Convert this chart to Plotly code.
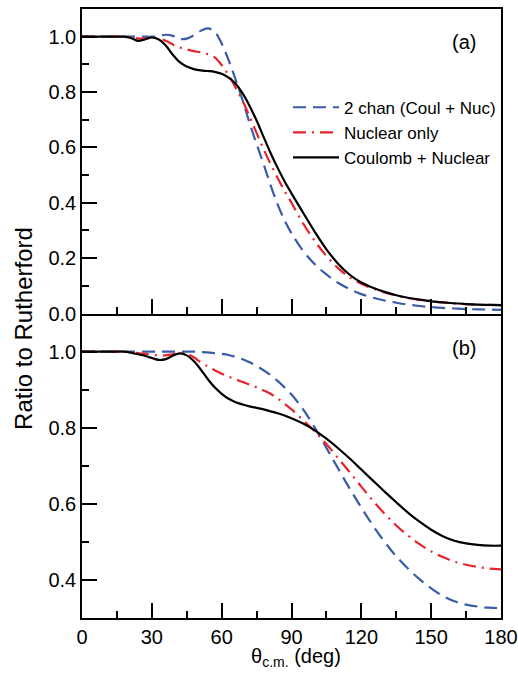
import plotly.graph_objects as go

# ---------------- data ----------------
theta = [0, 3, 6, 9, 12, 15, 18, 21, 24, 27, 30, 33, 36, 39, 42, 45,
         48, 51, 54, 57, 60, 63, 66, 69, 72, 75, 78, 81, 84, 87, 90,
         95, 100, 105, 110, 115, 120, 125, 130, 135, 140, 145, 150, 155, 160, 165, 170, 175, 180]

# panel (a)
a_two_chan = [1.0, 1.0, 1.0, 1.0, 1.0, 1.0, 1.0, 1.0, 1.0, 1.0, 1.0, 1.003, 1.007, 1.003, 0.992, 0.993,
              1.005, 1.021, 1.03, 1.018, 0.975, 0.915, 0.845, 0.77, 0.688, 0.612, 0.54, 0.464, 0.395, 0.337, 0.29,
              0.226, 0.178, 0.141, 0.111, 0.088, 0.07, 0.057, 0.047, 0.039, 0.032, 0.027, 0.023, 0.02, 0.018, 0.016,
              0.015, 0.014, 0.013]
a_nuclear = [1.0, 1.0, 1.0, 1.0, 1.0, 1.0, 1.0, 0.998, 0.994, 0.993, 0.996, 0.994, 0.985, 0.972, 0.961, 0.954,
             0.948, 0.943, 0.937, 0.925, 0.897, 0.86, 0.816, 0.768, 0.712, 0.652, 0.594, 0.54, 0.49, 0.443, 0.4,
             0.325, 0.262, 0.208, 0.164, 0.13, 0.107, 0.09, 0.076, 0.065, 0.056, 0.049, 0.044, 0.04, 0.036, 0.034,
             0.032, 0.031, 0.03]
a_coul_nuc = [1.0, 1.0, 1.0, 1.0, 1.0, 1.0, 1.0, 0.995, 0.985, 0.99, 0.997, 0.99, 0.968, 0.935, 0.908, 0.892,
              0.883, 0.878, 0.876, 0.873, 0.866, 0.852, 0.83, 0.795, 0.75, 0.697, 0.638, 0.58, 0.527, 0.478, 0.434,
              0.364, 0.295, 0.232, 0.18, 0.14, 0.112, 0.093, 0.078, 0.066, 0.057, 0.05, 0.044, 0.04, 0.037, 0.034,
              0.032, 0.031, 0.03]

# panel (b)
b_two_chan = [1.0, 1.0, 1.0, 1.0, 1.0, 1.0, 1.0, 1.0, 1.0, 1.0, 1.0, 1.0, 1.0, 1.0, 1.0, 1.0,
              1.0, 0.999, 0.998, 0.996, 0.994, 0.991, 0.986, 0.98, 0.972, 0.962, 0.951, 0.938, 0.923, 0.906, 0.887,
              0.848, 0.8, 0.747, 0.693, 0.64, 0.59, 0.543, 0.5, 0.462, 0.43, 0.402, 0.378, 0.358, 0.344, 0.335,
              0.33, 0.327, 0.326]
b_nuclear = [1.0, 1.0, 1.0, 1.0, 1.0, 1.0, 1.0, 0.998, 0.996, 0.994, 0.992, 0.99, 0.99, 0.993, 0.996, 0.994,
             0.985, 0.972, 0.961, 0.951, 0.942, 0.934, 0.927, 0.92, 0.913, 0.906, 0.898, 0.889, 0.877, 0.863, 0.848,
             0.82, 0.79, 0.757, 0.72, 0.683, 0.645, 0.608, 0.574, 0.543, 0.517, 0.494, 0.475, 0.46, 0.448, 0.44,
             0.434, 0.43, 0.428]
b_coul_nuc = [1.0, 1.0, 1.0, 1.0, 1.0, 1.0, 1.0, 0.997, 0.993, 0.989, 0.983, 0.978, 0.98, 0.989, 0.995, 0.99,
              0.975, 0.953, 0.928, 0.906, 0.889, 0.876, 0.867, 0.861, 0.856, 0.852, 0.848, 0.843, 0.838, 0.832, 0.825,
              0.811, 0.793, 0.771, 0.746, 0.719, 0.69, 0.661, 0.632, 0.604, 0.577, 0.553, 0.532, 0.515, 0.503, 0.496,
              0.492, 0.49, 0.49]

names = ["2 chan (Coul + Nuc)", "Nuclear only", "Coulomb + Nuclear"]
ya_ticks = [0.0, 0.2, 0.4, 0.6, 0.8, 1.0]
yb_ticks = [0.4, 0.6, 0.8, 1.0]

for s in (a_two_chan, a_nuclear, a_coul_nuc, b_two_chan, b_nuclear, b_coul_nuc):
    assert len(s) == len(theta), len(s)

# ---------------- styles ----------------
FONT = "Liberation Sans, Arial, Helvetica, sans-serif"
BLUE = "#3a5ba8"
RED = "#e8232a"
BLACK = "#000000"
TICK = "#000000"
styles = [
    dict(color=BLUE, width=2.2, dash="13px,7px"),
    dict(color=RED, width=2.2, dash="13px,6px,2px,6px"),
    dict(color=BLACK, width=2.2, dash="solid"),
]

fig = go.Figure()
for name, ys, st in zip(names, [a_two_chan, a_nuclear, a_coul_nuc], styles):
    fig.add_trace(go.Scatter(x=theta, y=ys, mode="lines", name=name,
                             line=dict(shape="spline", smoothing=1.0, **st),
                             xaxis="x2", yaxis="y2", showlegend=True))
for name, ys, st in zip(names, [b_two_chan, b_nuclear, b_coul_nuc], styles):
    fig.add_trace(go.Scatter(x=theta, y=ys, mode="lines", name=name,
                             line=dict(shape="spline", smoothing=1.0, **st),
                             xaxis="x", yaxis="y", showlegend=False))

minor_x = dict(dtick=15, tick0=0, ticklen=7, ticks="inside", tickcolor=TICK, tickwidth=2)
minor_y = dict(dtick=0.1, tick0=0, ticklen=7, ticks="inside", tickcolor=TICK, tickwidth=2)


def ax(**kw):
    d = dict(showline=True, linecolor="black", linewidth=1.5, mirror=True,
             ticks="inside", ticklen=15, tickwidth=2, tickcolor=TICK,
             showgrid=False, zeroline=False, automargin=False,
             tickfont=dict(family=FONT, size=20, color="black"))
    d.update(kw)
    return d


fig.update_layout(
    width=518, height=675,
    margin=dict(l=82, r=17, t=9, b=57),
    paper_bgcolor="white", plot_bgcolor="white",
    font=dict(family=FONT, color="black"),
    xaxis=ax(range=[0, 180], tick0=0, dtick=30, anchor="y", mirror=False, minor=minor_x),
    xaxis2=ax(range=[0, 180], tick0=0, dtick=30, anchor="y2",
              showticklabels=False, minor=minor_x),
    yaxis=ax(domain=[0, 0.5], range=[0.3, 1.1], tickvals=yb_ticks, tickformat=".1f", minor=minor_y),
    yaxis2=ax(domain=[0.5, 1], range=[0, 1.1], tickvals=ya_ticks, tickformat=".1f", minor=minor_y),
    legend=dict(x=0.4917, y=0.8675, xanchor="left", yanchor="top",
                bgcolor="rgba(0,0,0,0)", borderwidth=0,
                font=dict(family=FONT, size=17, color="black"),
                itemwidth=46, tracegroupgap=0),
    annotations=[
        dict(text="Ratio to Rutherford", x=-0.138, y=0.475, xref="paper", yref="paper",
             textangle=-90, showarrow=False, font=dict(family=FONT, size=24),
             xanchor="center", yanchor="middle"),
        dict(text="θ<sub>c.m.</sub> (deg)", x=0.511, y=-0.0655, xref="paper", yref="paper",
             showarrow=False, font=dict(family=FONT, size=20),
             xanchor="center", yanchor="middle"),
        dict(text="(a)", x=0.912, y=0.945, xref="paper", yref="paper", showarrow=False,
             font=dict(family=FONT, size=20), xanchor="center", yanchor="middle"),
        dict(text="(b)", x=0.912, y=0.444, xref="paper", yref="paper", showarrow=False,
             font=dict(family=FONT, size=20), xanchor="center", yanchor="middle"),
    ],
)

fig.write_html("out.html", config={"displayModeBar": False},
               post_script="document.body.style.margin='0px';document.body.style.padding='0px';")
